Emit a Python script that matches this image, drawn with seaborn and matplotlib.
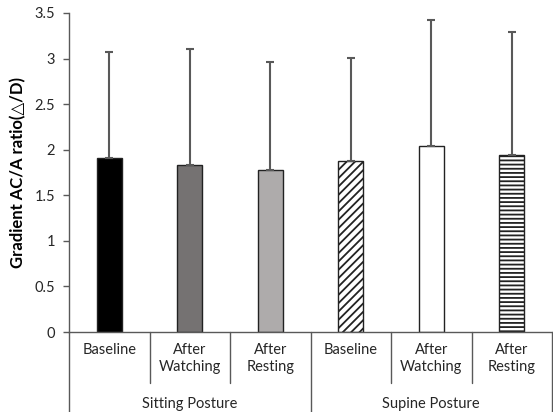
import numpy as np
import pandas as pd
import matplotlib
matplotlib.use("Agg")
import matplotlib.pyplot as plt
import matplotlib.transforms as mtransforms
import seaborn as sns

# data
postures = ["Sitting Posture", "Sitting Posture", "Sitting Posture",
            "Supine Posture", "Supine Posture", "Supine Posture"]
conditions = ["Baseline", "After\nWatching", "After\nResting",
              "Baseline", "After\nWatching", "After\nResting"]
means = [1.91, 1.83, 1.78, 1.88, 2.04, 1.94]
sds = [1.16, 1.28, 1.18, 1.13, 1.38, 1.35]
group_names = ["Sitting Posture", "Supine Posture"]

fills = ["#000000", "#767171", "#AEAAAA", "#FFFFFF", "#FFFFFF", "#FFFFFF"]
hatches = ["", "", "", "////", "", "----"]

sns.set_theme(style="white")
plt.rcParams["font.family"] = ["Lato", "DejaVu Sans"]
plt.rcParams["hatch.linewidth"] = 1.3

df = pd.DataFrame({"key": [f"{p}|{c}" for p, c in zip(postures, conditions)],
                   "mean": means})

fig = plt.figure(figsize=(5.53, 4.12), dpi=100)
ax = fig.add_axes([69 / 553, 1 - 332 / 412, (552 - 69) / 553, (332 - 13) / 412])

sns.barplot(data=df, x="key", y="mean", hue="key", palette=fills,
            legend=False, errorbar=None, width=0.31, edgecolor="#222222",
            linewidth=1.0, ax=ax)
for patch, h in zip(ax.patches, hatches):
    patch.set_hatch(h)

x = np.arange(len(means))
ax.errorbar(x, means, yerr=[np.zeros(len(sds)), sds], fmt="none",
            ecolor="#595959", elinewidth=1.5, capsize=3, capthick=1.5, zorder=1)

ax.set_xlim(-0.5, len(means) - 0.5)
ax.set_ylim(0, 3.5)
ax.set_yticks(np.arange(0, 3.51, 0.5))
ax.set_yticklabels(["0", "0.5", "1", "1.5", "2", "2.5", "3", "3.5"])
ax.tick_params(axis="y", left=True, length=4, width=1, color="#595959",
               labelsize=10.5, labelcolor="#262626", pad=6)
ax.tick_params(axis="x", bottom=False, labelbottom=False)
ax.set_xlabel("")
ax.set_ylabel("Gradient AC/A ratio(\u25b3/D)", fontsize=12, fontweight="bold",
              color="#000000", labelpad=6)

for side in ["top", "right"]:
    ax.spines[side].set_visible(False)
ax.spines["left"].set_color("#595959")
ax.spines["bottom"].set_color("#595959")
ax.spines["left"].set_linewidth(1)
ax.spines["bottom"].set_linewidth(1)

# multi-level category axis
trans = mtransforms.blended_transform_factory(ax.transData, ax.transAxes)
for i, c in enumerate(conditions):
    ax.text(i, -0.035, c, transform=trans, ha="center", va="top",
            fontsize=10.5, color="#262626", linespacing=1.25)
for b in [0.5, 1.5, 3.5, 4.5]:
    ax.plot([b, b], [0, -0.16], transform=trans, color="#595959", lw=1,
            clip_on=False)
for b in [-0.5, 2.5, 5.5]:
    ax.plot([b, b], [0, -0.30], transform=trans, color="#595959", lw=1,
            clip_on=False)
for g, name in enumerate(group_names):
    ax.text(g * 3 + 1, -0.205, name, transform=trans, ha="center", va="top",
            fontsize=10.5, color="#262626")

fig.savefig("out.png", dpi=100)
